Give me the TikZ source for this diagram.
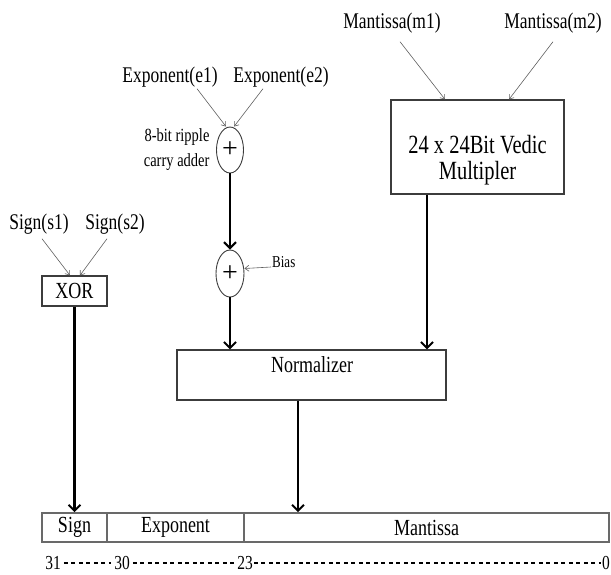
\documentclass[tikz,border=0pt]{standalone}
\usepackage{fontspec}
\usepackage{graphicx}
\setmainfont{Liberation Serif}
\usetikzlibrary{shapes.geometric,arrows.meta}
\definecolor{wire}{RGB}{95,95,95}
\definecolor{frame}{RGB}{60,60,60}
\definecolor{field}{RGB}{105,105,105}
\newcommand{\tall}[1]{\scalebox{1}[1.28]{#1}}
\tikzstyle{block}=[draw=frame, line width=1.2pt, inner sep=0pt]
\tikzstyle{adder}=[ellipse, draw=frame, line width=0.9pt, minimum width=27pt, minimum height=46pt, inner sep=0pt, font=\fontsize{28}{28}\selectfont]
\tikzstyle{regfield}=[draw=field, line width=1.6pt, minimum height=29pt, inner sep=0pt, font=\fontsize{18}{22}\selectfont]
\tikzset{sigin/.style={font=\fontsize{17.5}{21}\selectfont}}
\tikzset{bus/.style={-{Straight Barb[length=6pt,width=12pt,line width=2pt]}, line width=2.2pt}}
\tikzset{feed/.style={-{Straight Barb[length=4pt,width=6pt]}, line width=0.6pt, color=wire}}
\tikzset{bitno/.style={font=\fontsize{15.5}{18}\selectfont, inner xsep=3pt, inner ysep=0.5pt}}
\tikzset{bitgap/.style={line width=2pt, dash pattern=on 4pt off 3.5pt}}

\begin{document}
\begin{tikzpicture}[x=1pt,y=-1pt]
  \useasboundingbox (0,0) rectangle (611,574);

  %% Input labels
  \draw (39,224) node[sigin] (S1) {\tall{Sign(s1)}};
  \draw (115,224) node[sigin] (S2) {\tall{Sign(s2)}};
  \draw (170,77) node[sigin] (E1) {\tall{Exponent(e1)}};
  \draw (281,77) node[sigin] (E2) {\tall{Exponent(e2)}};
  \draw (392,23) node[sigin] (M1) {\tall{Mantissa(m1)}};
  \draw (553,23) node[sigin] (M2) {\tall{Mantissa(m2)}};

  %% Units
  \draw (74.5,291) node[block, minimum width=65pt, minimum height=30pt, font=\fontsize{18}{22}\selectfont] (XOR) {\tall{XOR}};
  \draw (230,150) node[adder] (ADD1) {+};
  \draw (213,150) node[anchor=east, align=right, font=\fontsize{14.5}{25}\selectfont] (RCA) {\tall{8-bit ripple}\\\tall{carry adder}};
  \draw (230,273.5) node[adder, minimum height=47pt, minimum width=28pt] (ADD2) {+};
  \draw (271,262) node[anchor=west, inner sep=1pt, font=\fontsize{13}{16}\selectfont] (BIAS) {\tall{Bias}};
  \draw (477.5,147) node[block, minimum width=173pt, minimum height=94pt] (MUL) {};
  \draw (477.5,160) node[align=center, font=\fontsize{20.5}{26}\selectfont] (MULTXT) {\tall{24 x 24Bit Vedic}\\\tall{Multipler}};
  \draw (311.5,375) node[block, minimum width=269pt, minimum height=50pt] (NORM) {};
  \draw (312,365) node[font=\fontsize{18}{22}\selectfont] (NORMTXT) {\tall{Normalizer}};

  %% Result register
  \draw (74.5,527.5) node[regfield, minimum width=65pt] (SIGNF) {\tall{Sign}};
  \draw (175.5,527.5) node[regfield, minimum width=137pt] (EXPF) {\tall{Exponent}};
  \draw (426.5,527.5) node[regfield, minimum width=365pt] (MANF) {\tall{Mantissa}};

  \draw (53,563) node[bitno] (N31) {\tall{31}};
  \draw (122,563) node[bitno] (N30) {\tall{30}};
  \draw (245,563) node[bitno, inner xsep=1pt] (N23) {\tall{23}};
  \draw (606,563) node[bitno, inner xsep=1pt] (N0) {\tall{0}};
  \draw[bitgap] (N31) -- (N30);
  \draw[bitgap] (N30) -- (N23);
  \draw[bitgap] (N23) -- (N0);

  %% Thin inputs
  \draw[feed] ([shift={(3pt,-1pt)}]S1.south) -- ([xshift=-4.5pt]XOR.north);
  \draw[feed] ([shift={(-8pt,-1pt)}]S2.south) -- ([xshift=5.5pt]XOR.north);
  \draw[feed] ([shift={(27pt,2pt)}]E1.south) -- ([xshift=-4pt]ADD1.north);
  \draw[feed] ([shift={(-18pt,2pt)}]E2.south) -- ([xshift=4pt]ADD1.north);
  \draw[feed] ([shift={(8pt,-5pt)}]M1.south) -- ([xshift=-32.5pt]MUL.north);
  \draw[feed] ([shift={(0pt,-5pt)}]M2.south) -- ([xshift=31.5pt]MUL.north);
  \draw[feed] ([yshift=-5pt]BIAS.west) -- ([yshift=5pt]ADD2.east);

  %% Data paths
  \coordinate (mulout) at ([xshift=-50.5pt]MUL.south);
  \coordinate (normout) at ([xshift=-13.5pt]NORM.south);
  \draw[bus] (ADD1) -- (ADD2);
  \draw[bus] (ADD2) -- (ADD2 |- NORM.north);
  \draw[bus] (mulout) -- (mulout |- NORM.north);
  \draw[bus] (XOR) -- (SIGNF);
  \draw[bus] (normout) -- (normout |- MANF.north);
\end{tikzpicture}
\end{document}
